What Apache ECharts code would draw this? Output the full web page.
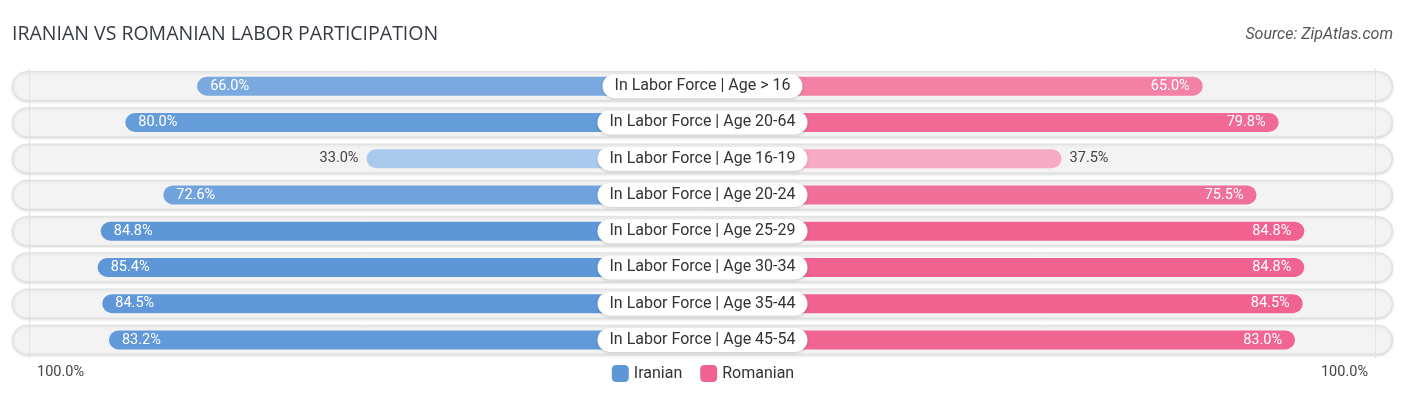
<!DOCTYPE html>
<html>
<head>
<meta charset="utf-8">
<script src="https://cdn.jsdelivr.net/npm/echarts@6/dist/echarts.min.js"></script>
<style>
html,body{margin:0;padding:0;background:#fff;}
#chart{width:1406px;height:395px;}
</style>
</head>
<body>
<div id="chart"></div>
<script>
const categories = [
  "In Labor Force | Age > 16",
  "In Labor Force | Age 20-64",
  "In Labor Force | Age 16-19",
  "In Labor Force | Age 20-24",
  "In Labor Force | Age 25-29",
  "In Labor Force | Age 30-34",
  "In Labor Force | Age 35-44",
  "In Labor Force | Age 45-54"
];
const iranian  = [66.0, 80.0, 33.0, 72.6, 84.8, 85.4, 84.5, 83.2];
const romanian = [65.0, 79.8, 37.5, 75.5, 84.8, 84.8, 84.5, 83.0];
const seriesNames = ["Iranian", "Romanian"];
const edgeLabel = "100.0%";

const OFF = 32.5;     // half width of centre label, in axis units
const HALF = 134.6;   // axis half-extent (pill edges)

function hex(c){return [parseInt(c.slice(1,3),16),parseInt(c.slice(3,5),16),parseInt(c.slice(5,7),16)];}
function mix(a,b,t){const A=hex(a),B=hex(b);return 'rgb('+A.map((x,i)=>Math.round(x+(B[i]-x)*t)).join(',')+')';}
function shade(light,dark,v,lo,hi){let t=(v-lo)/(hi-lo);t=Math.max(0,Math.min(1,t));return mix(light,dark,t);}
const BLUE='#5e97d8', PINK='#f0628f';
const blueCol = v => shade('#abc9ec', BLUE, v, 33, 85);
const pinkCol = v => shade('#f7aac4', PINK, v, 37.5, 85);

function barData(vals, sign, colFn){
  return vals.map(v => {
    const inside = v >= 45;
    return {
      value: sign*(OFF+v),
      itemStyle: {color: colFn(v)},
      label: {
        show: true,
        formatter: v.toFixed(1)+'%',
        position: inside ? (sign<0?'insideLeft':'insideRight') : (sign<0?'left':'right'),
        distance: inside ? 13 : 8,
        color: inside ? '#ffffff' : '#444444',
        fontSize: 14.5,
        fontFamily: 'Roboto'
      }
    };
  });
}

const chart = echarts.init(document.getElementById('chart'));
chart.setOption({
  animation: false,
  backgroundColor: '#ffffff',
  title: [
    {text: 'IRANIAN VS ROMANIAN LABOR PARTICIPATION', left: 7, top: 19,
     textStyle:{fontSize:19.5, fontWeight:'normal', color:'#363a45', fontFamily:'Open Sans'}},
    {text: 'Source: ZipAtlas.com', right: 8, top: 22,
     textStyle:{fontSize:16, fontWeight:'normal', fontStyle:'italic', color:'#555', fontFamily:'Roboto'}},
    {text: edgeLabel, left: 32, top: 360,
     textStyle:{fontSize:14.5, fontWeight:'normal', color:'#444', fontFamily:'Roboto'}},
    {text: edgeLabel, right: 33, top: 360,
     textStyle:{fontSize:14.5, fontWeight:'normal', color:'#444', fontFamily:'Roboto'}}
  ],
  legend: {
    data: seriesNames,
    left: 'center', top: 360,
    icon: 'roundRect', itemWidth: 17, itemHeight: 17, itemGap: 18,
    textStyle: {fontSize: 16, color: '#333', fontFamily: 'Roboto'},
    selectedMode: false
  },
  grid: {left: 12, right: 13, top: 68, bottom: 37},
  xAxis: {type: 'value', min: -HALF, max: HALF, show: false},
  yAxis: {type: 'category', data: categories, inverse: true, show: false},
  series: [
    {
      type: 'custom', name: 'bg', z: 1, silent: true,
      data: categories.map((c,i)=>[-HALF, HALF, i]),
      encode: {x:[0,1], y:2},
      renderItem: function(params, api){
        const p1 = api.coord([api.value(0), api.value(2)]);
        const p2 = api.coord([api.value(1), api.value(2)]);
        const h = 29;
        return {type:'rect',
          shape:{x:p1[0]+0.5, y:p1[1]-h/2, width:p2[0]-p1[0]-1, height:h, r:h/2},
          style:{fill:'#f3f3f3', stroke:'#dedede', lineWidth:1,
                 shadowBlur:3, shadowColor:'rgba(0,0,0,0.13)', shadowOffsetY:1}};
      }
    },
    {
      type: 'bar', name: seriesNames[0], z: 3,
      itemStyle: {color: BLUE, borderRadius: 10},
      barWidth: 19, barGap: '-100%',
      data: barData(iranian, -1, blueCol),
      markLine: {silent:true, symbol:'none', label:{show:false},
        lineStyle:{color:'#e2e2e2', type:'solid', width:1},
        data:[{xAxis:-131.2},{xAxis:131.2}]}
    },
    {
      type: 'bar', name: seriesNames[1], z: 3,
      itemStyle: {color: PINK, borderRadius: 10},
      barWidth: 19, barGap: '-100%',
      data: barData(romanian, 1, pinkCol)
    },
    {
      type: 'scatter', name: 'labels', z: 5, silent: true,
      symbolSize: 1, itemStyle:{color:'transparent', opacity: 1},
      data: categories.map((c,i)=>[0, i]),
      label: {
        show: true, position: 'inside',
        formatter: p => categories[p.dataIndex],
        backgroundColor: '#ffffff', borderRadius: 12,
        padding: [4, 12, 4, 12],
        fontSize: 16, color: '#333', fontFamily: 'Roboto',
        shadowBlur: 3, shadowColor: 'rgba(0,0,0,0.18)', shadowOffsetY: 1
      }
    }
  ]
});
</script>
</body>
</html>
